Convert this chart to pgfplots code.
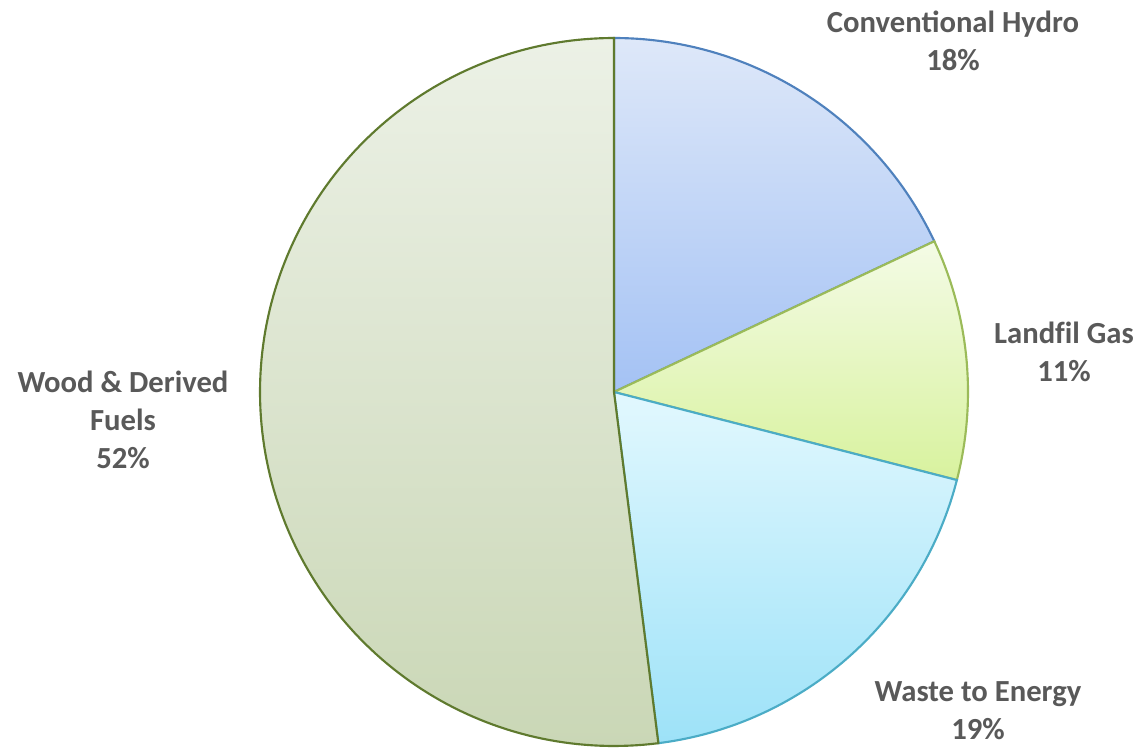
\documentclass[border=0pt]{standalone}
\usepackage{pgfplots}
\pgfplotsset{compat=1.18}
\usepackage{fontspec}
\setmainfont{Carlito}
\definecolor{lbl}{HTML}{595959}
\definecolor{hydroT}{HTML}{DEE8F9}
\definecolor{hydroB}{HTML}{A4C2F4}
\definecolor{hydroL}{HTML}{4F81BD}
\definecolor{gasT}{HTML}{F4FBE6}
\definecolor{gasB}{HTML}{D8F29E}
\definecolor{gasL}{HTML}{9BBB59}
\definecolor{wasteT}{HTML}{E2F8FE}
\definecolor{wasteB}{HTML}{9DE2F8}
\definecolor{wasteL}{HTML}{4BACC6}
\definecolor{woodT}{HTML}{ECF1E6}
\definecolor{woodB}{HTML}{CAD7B6}
\definecolor{woodL}{HTML}{5F7A2E}
\tikzset{pielbl/.style={font=\fontsize{23}{28.5}\selectfont\bfseries, text=lbl, align=center, inner sep=0pt}}
% shares (percent): Hydro 18, Landfil Gas 11, Waste to Energy 19, Wood 52
% cumulative angles, clockwise from 90 deg: 90 -> 25.2 -> -14.4 -> -82.8 -> -270
\begin{document}
\begin{tikzpicture}
\begin{axis}[
  width=855pt, height=561.75pt, scale only axis,
  xmin=0, xmax=1140, ymin=0, ymax=749,
  hide axis, clip=false,
]
\addplot[draw=none] coordinates {(0,0) (1140,749)};
% Conventional Hydro 18%
\addplot[draw=hydroL, line width=1.6pt, top color=hydroT, bottom color=hydroB, domain=25.2:90, samples=80, variable=\t]
  ({614+354*cos(\t)},{357+354*sin(\t)}) -- (axis cs:614,357) -- cycle;
% Landfil Gas 11%
\addplot[draw=gasL, line width=1.6pt, top color=gasT, bottom color=gasB, domain=-14.4:25.2, samples=50, variable=\t]
  ({614+354*cos(\t)},{357+354*sin(\t)}) -- (axis cs:614,357) -- cycle;
% Waste to Energy 19%
\addplot[draw=wasteL, line width=1.6pt, top color=wasteT, bottom color=wasteB, domain=-82.8:-14.4, samples=80, variable=\t]
  ({614+354*cos(\t)},{357+354*sin(\t)}) -- (axis cs:614,357) -- cycle;
% Wood & Derived Fuels 52%
\addplot[draw=woodL, line width=1.6pt, top color=woodT, bottom color=woodB, domain=90:277.2, samples=160, variable=\t]
  ({614+354*cos(\t)},{357+354*sin(\t)}) -- (axis cs:614,357) -- cycle;
\node[pielbl] at (axis cs:953,708) {Conventional Hydro\\18\%};
\node[pielbl] at (axis cs:1064,397) {Landf\kern0pt il Gas\\11\%};
\node[pielbl] at (axis cs:978,38) {Waste to Energy\\19\%};
\node[pielbl] at (axis cs:123,329) {Wood \& Derived\\Fuels\\52\%};
\end{axis}
\end{tikzpicture}
\end{document}
